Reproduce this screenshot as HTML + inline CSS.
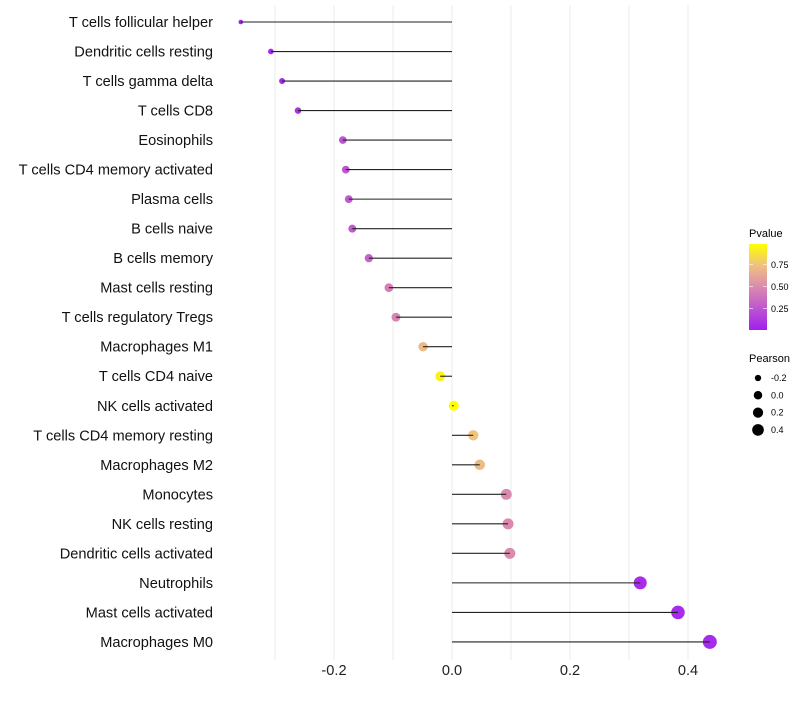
<!DOCTYPE html>
<html><head><meta charset="utf-8"><style>
body{margin:0;background:#fff}
text{font-family:"Liberation Sans",sans-serif}
</style></head><body>
<svg id="c" width="800" height="700" xmlns="http://www.w3.org/2000/svg">
<defs><linearGradient id="pg" x1="0" y1="1" x2="0" y2="0">
<stop offset="0" stop-color="#a020f0"/><stop offset="0.5" stop-color="#da8aaf"/><stop offset="0.75" stop-color="#f0c080"/><stop offset="1" stop-color="#ffff00"/>
</linearGradient></defs>
<g id="grid"></g><g id="marks"></g><g id="ylab"></g><g id="xlab"></g>
<g>
<text x="749" y="237" font-size="11">Pvalue</text>
<rect x="749" y="244" width="18" height="86" fill="url(#pg)"/>
<line x1="749" x2="753" y1="308.5" y2="308.5" stroke="#fff" opacity=".6"/><line x1="763" x2="767" y1="308.5" y2="308.5" stroke="#fff" opacity=".6"/>
<line x1="749" x2="753" y1="286.5" y2="286.5" stroke="#fff" opacity=".6"/><line x1="763" x2="767" y1="286.5" y2="286.5" stroke="#fff" opacity=".6"/>
<line x1="749" x2="753" y1="264.5" y2="264.5" stroke="#fff" opacity=".6"/><line x1="763" x2="767" y1="264.5" y2="264.5" stroke="#fff" opacity=".6"/>
<text x="771" y="312" font-size="9">0.25</text><text x="771" y="290" font-size="9">0.50</text><text x="771" y="268" font-size="9">0.75</text>
</g>
<g id="sizeleg">
<text x="749" y="362" font-size="11">Pearson</text>
</g>
</svg>
<script>
const categories=["T cells follicular helper","Dendritic cells resting","T cells gamma delta","T cells CD8","Eosinophils","T cells CD4 memory activated","Plasma cells","B cells naive","B cells memory","Mast cells resting","T cells regulatory  Tregs ","Macrophages M1","T cells CD4 naive","NK cells activated","T cells CD4 memory resting","Macrophages M2","Monocytes","NK cells resting","Dendritic cells activated","Neutrophils","Mast cells activated","Macrophages M0"];
const pearson=[-0.358,-0.307,-0.288,-0.261,-0.185,-0.180,-0.175,-0.169,-0.141,-0.107,-0.095,-0.049,-0.020,0.003,0.036,0.047,0.092,0.095,0.098,0.319,0.383,0.437];
const pvalue=[0.03,0.05,0.05,0.08,0.25,0.25,0.27,0.27,0.32,0.45,0.47,0.72,0.95,1.0,0.76,0.72,0.5,0.5,0.5,0.06,0.05,0.05];
const xTicks=[-0.2,0.0,0.2,0.4];
const gridVals=[-0.3,-0.2,-0.1,0,0.1,0.2,0.3,0.4];
const sizeLegend=[-0.2,0.0,0.2,0.4];
const NS="http://www.w3.org/2000/svg";
const x=v=>452+v*590;
const y=i=>22+i*29.52;
const r=v=>Math.sqrt(Math.max(1.5,25+55*v));
function mk(t,a,p){const e=document.createElementNS(NS,t);for(const k in a)e.setAttribute(k,a[k]);p.appendChild(e);return e;}
const stops=[[0,[160,32,240]],[0.5,[218,138,175]],[0.75,[240,192,128]],[1,[255,255,0]]];
function col(p){for(let i=1;i<stops.length;i++){if(p<=stops[i][0]){const [a,ca]=stops[i-1],[b,cb]=stops[i];const t=(p-a)/(b-a);return `rgb(${ca.map((c,j)=>Math.round(c+(cb[j]-c)*t)).join(',')})`;}}return 'rgb(255,255,0)';}
const g=document.getElementById('grid'),m=document.getElementById('marks'),yl=document.getElementById('ylab'),xl=document.getElementById('xlab');
gridVals.forEach(v=>{const l=mk('line',{x1:x(v),x2:x(v),y1:5,y2:660,stroke:'#ebebeb','stroke-width':1},g);

});
categories.forEach((c,i)=>{
const pt=mk('circle',{cx:x(pearson[i]),cy:y(i),r:r(pearson[i]),fill:col(pvalue[i])},m);


const ln=mk('line',{x1:x(0),x2:x(pearson[i]),y1:y(i),y2:y(i),stroke:'#222','stroke-width':1.1},m);


const t=mk('text',{x:213,y:y(i)+5,'text-anchor':'end','font-size':14.6,fill:'#111'},yl);t.textContent=c;


});
xTicks.forEach(v=>{const t=mk('text',{x:x(v),y:675,'text-anchor':'middle','font-size':14.6,fill:'#222'},xl);t.textContent=v.toFixed(1);

});
const sl=document.getElementById('sizeleg');
sizeLegend.forEach((v,i)=>{const cy=378+i*17.3;
const c=mk('circle',{cx:758,cy:cy,r:r(v)*0.85,fill:'#000'},sl);


const t=mk('text',{x:771,y:cy+3,'font-size':9},sl);t.textContent=v.toFixed(1);

});
</script>
</body></html>
